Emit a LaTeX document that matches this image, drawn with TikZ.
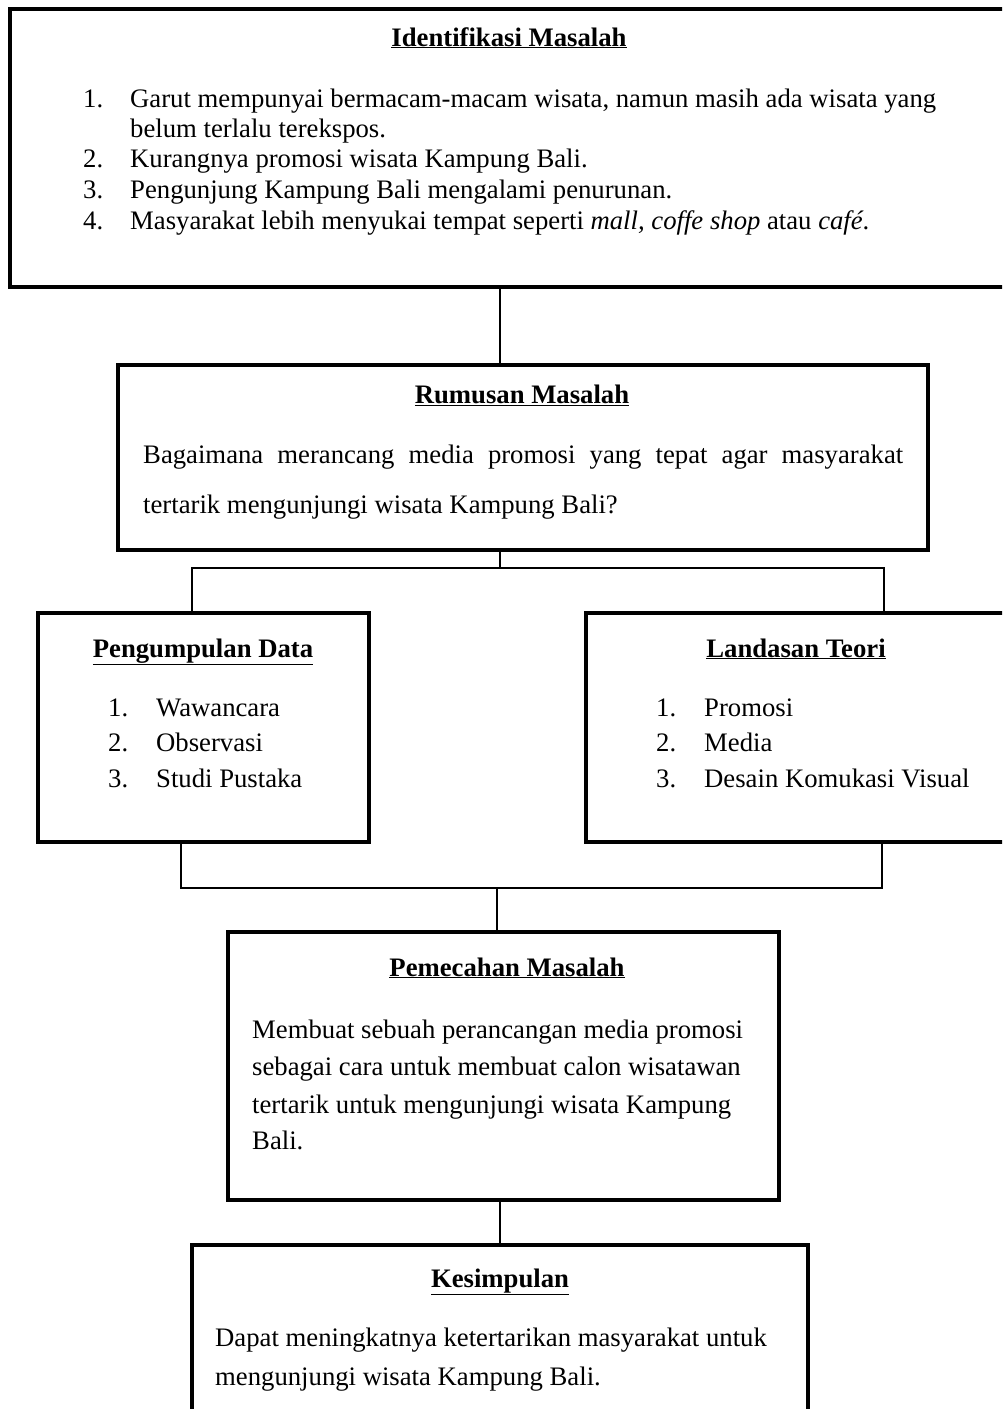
\documentclass[tikz,border=0pt]{standalone}
\usepackage{fontspec}
\setmainfont{Liberation Serif}
\usetikzlibrary{positioning}

\begin{document}
\begin{tikzpicture}[x=1pt,y=-1pt,
 box/.style={draw,line width=4.5pt,anchor=north west,inner sep=0pt,outer sep=0pt},
 ttl/.style={font=\fontsize{26.7}{30}\selectfont\bfseries,anchor=base,inner sep=0pt},
 txt/.style={font=\fontsize{26.7}{30}\selectfont,anchor=base west,inner sep=0pt},
 conn/.style={line width=1.5pt}]
\clip (0,0) rectangle (1002,1409);
\fill[white] (0,0) rectangle (1002,1409);
% boxes
\node[box,minimum width=1010pt,minimum height=278pt] (idm) at (10,9) {};
\node[box,minimum width=810pt,minimum height=185pt] (rum) at (118,365) {};
\node[box,minimum width=331pt,minimum height=229pt] (pgd) at (38,613) {};
\node[box,minimum width=440pt,minimum height=229pt] (lnd) at (586,613) {};
\node[box,minimum width=551pt,minimum height=268pt] (pmc) at (228,932) {};
\node[box,minimum width=616pt,minimum height=200pt] (ksp) at (192,1245) {};
% junctions
\coordinate (jtop) at (500,568);
\coordinate (jl) at (192,568);
\coordinate (jr) at (884,568);
\coordinate (kl) at (181,888);
\coordinate (kr) at (882,888);
\coordinate (jbot) at (497,888);
\coordinate (jk) at (500,1220);
% connectors
\draw[conn] (idm.south -| jtop) -- (rum.north -| jtop);
\draw[conn] (rum.south -| jtop) -- (jtop);
\draw[conn] (pgd.north -| jl) -- (jl) -- (jr) -- (lnd.north -| jr);
\draw[conn] (pgd.south -| kl) -- (kl) -- (kr) -- (lnd.south -| kr);
\draw[conn] (jbot) -- (pmc.north -| jbot);
\draw[conn] (pmc.south -| jk) -- (ksp.north -| jk);
% Identifikasi Masalah
\node[ttl] (idmT) at (509,46) {\underline{Identifikasi Masalah}};
\node[txt] (idm1n) at (83,107) {1.};
\node[txt] (idm1) at (130,107) {Garut mempunyai bermacam-macam wisata, namun masih ada wisata yang};
\node[txt] (idm1b) at (130,137) {belum terlalu terekspos.};
\node[txt] (idm2n) at (83,167) {2.};
\node[txt] (idm2) at (130,167) {Kurangnya promosi wisata Kampung Bali.};
\node[txt] (idm3n) at (83,198) {3.};
\node[txt] (idm3) at (130,198) {Pengunjung Kampung Bali mengalami penurunan.};
\node[txt] (idm4n) at (83,229) {4.};
\node[txt] (idm4) at (130,229) {Masyarakat lebih menyukai tempat seperti \textit{mall, coffe shop} atau \textit{café}.};
% Rumusan Masalah
\node[ttl] (rumT) at (522,403) {\underline{Rumusan Masalah}};
\node[txt] (rum1) at (143,463) {\makebox[760pt][s]{Bagaimana merancang media promosi yang tepat agar masyarakat}};
\node[txt] (rum2) at (143,513) {tertarik mengunjungi wisata Kampung Bali?};
% Pengumpulan Data
\node[ttl] (pgdT) at (203,657) {\underline{Pengumpulan Data}};
\node[txt] (pgd1n) at (108,716) {1.};
\node[txt] (pgd1) at (156,716) {Wawancara};
\node[txt] (pgd2n) at (108,751) {2.};
\node[txt] (pgd2) at (156,751) {Observasi};
\node[txt] (pgd3n) at (108,787) {3.};
\node[txt] (pgd3) at (156,787) {Studi Pustaka};
% Landasan Teori
\node[ttl] (lndT) at (796,657) {\underline{Landasan Teori}};
\node[txt] (lnd1n) at (656,716) {1.};
\node[txt] (lnd1) at (704,716) {Promosi};
\node[txt] (lnd2n) at (656,751) {2.};
\node[txt] (lnd2) at (704,751) {Media};
\node[txt] (lnd3n) at (656,787) {3.};
\node[txt] (lnd3) at (704,787) {Desain Komukasi Visual};
% Pemecahan Masalah
\node[ttl] (pmcT) at (507,976) {\underline{Pemecahan Masalah}};
\node[txt] (pmc1) at (252,1038) {Membuat sebuah perancangan media promosi};
\node[txt] (pmc2) at (252,1075) {sebagai cara untuk membuat calon wisatawan};
\node[txt] (pmc3) at (252,1113) {tertarik untuk mengunjungi wisata Kampung};
\node[txt] (pmc4) at (252,1149) {Bali.};
% Kesimpulan
\node[ttl] (kspT) at (500,1287) {\underline{Kesimpulan}};
\node[txt] (ksp1) at (215,1346) {Dapat meningkatnya ketertarikan masyarakat untuk};
\node[txt] (ksp2) at (215,1385) {mengunjungi wisata Kampung Bali.};
\end{tikzpicture}
\end{document}
